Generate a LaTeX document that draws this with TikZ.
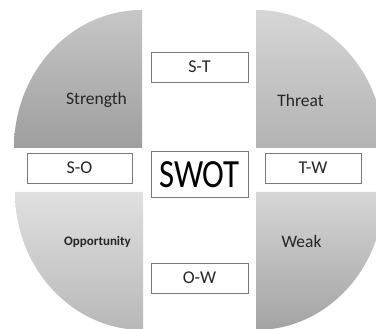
\documentclass[tikz,border=0pt]{standalone}
\usepackage{fontspec}
\setmainfont{Carlito}
\definecolor{boxline}{HTML}{7A7A7A}
\definecolor{txt}{HTML}{262626}
\begin{document}
\begin{tikzpicture}[x=1pt,y=1pt,
  pairbox/.style={draw=boxline, line width=0.9pt, fill=white, minimum height=30pt, inner sep=0pt, text=txt, font=\fontsize{18}{18}\selectfont},
  quadlabel/.style={text=txt, inner sep=0pt, font=\fontsize{17.5}{18}\selectfont}]
\useasboundingbox (0,0) rectangle (376,329);
\fill[white] (0,0) rectangle (376,329);
\begin{scope}
\clip (0,0) rectangle (376,329);
% top-left
\shade[top color=black!22, bottom color=black!38]
  (142,181) -- (142,319) arc[start angle=90, end angle=180, x radius=128, y radius=138] -- cycle;
% top-right
\shade[top color=black!16, bottom color=black!30]
  (256,181) -- (256,319) arc[start angle=90, end angle=0, x radius=128, y radius=138] -- cycle;
% bottom-left
\shade[top color=black!12, bottom color=black!28]
  (143,137) -- (143,-1) arc[start angle=270, end angle=180, x radius=128, y radius=138] -- cycle;
% bottom-right
\shade[top color=black!16, bottom color=black!36]
  (256,137) -- (256,-1) arc[start angle=270, end angle=360, x radius=128, y radius=138] -- cycle;
\end{scope}
\node[quadlabel] (s) at (96.5,229) {Strength};
\node[quadlabel] (t) at (300.5,229) {Threat};
\node[quadlabel, font=\bfseries\fontsize{13}{13}\selectfont] (o) at (97.5,87) {Opportunity};
\node[quadlabel] (w) at (301.5,88) {Weak};
\node[pairbox, minimum width=97pt] (st) at (199.5,262) {S-T};
\node[pairbox, minimum width=97pt] (ow) at (199.5,51) {O-W};
\node[pairbox, minimum width=105pt] (so) at (79.5,161) {S-O};
\node[pairbox, minimum width=96pt] (tw) at (313,161) {T-W};
\node[draw=boxline, line width=0.9pt, fill=white, minimum width=97pt, minimum height=46pt, inner sep=0pt, text=black] (swot) at (199.5,154.5) {\scalebox{0.82}[1]{\fontsize{40}{40}\selectfont SWOT}};
\end{tikzpicture}
\end{document}
